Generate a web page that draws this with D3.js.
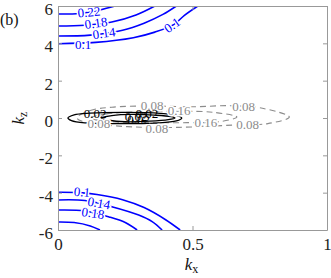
<!DOCTYPE html>
<html>
<head>
<meta charset="utf-8">
<script src="https://cdn.jsdelivr.net/npm/d3@7"></script>
<style>
  body { margin: 0; background: #fff; }
  svg { display: block; }
  text { font-family: "Liberation Serif", "Times New Roman", serif; }
</style>
</head>
<body>
<svg id="chart" width="331" height="278"></svg>
<script>
// axis ticks
const kxTicks = [0, 0.5, 1];
const kzTicks = [-6, -4, -2, 0, 2, 4, 6];

// blue contours near kz = +6 / -6, points [kx, kz]
const blueTop22 = [[0, 5.57], [0.08, 5.6], [0.156, 5.79], [0.212, 6]];
const blueTop18 = [[0, 4.93], [0.1, 4.97], [0.2, 5.14], [0.29, 5.52], [0.36, 6]];
const blueTop14 = [[0, 4.39], [0.12, 4.44], [0.24, 4.7], [0.32, 5.08], [0.39, 5.55], [0.44, 6]];
const blueTop10 = [[0, 3.98], [0.14, 4.05], [0.28, 4.3], [0.36, 4.6], [0.43, 5.0], [0.47, 5.5], [0.52, 6]];
const blueBot10 = [[0, -3.98], [0.08, -4.0], [0.145, -4.1], [0.24, -4.38], [0.32, -4.8], [0.4, -5.45], [0.454, -6]];
const blueBot14 = [[0, -4.39], [0.1, -4.42], [0.2, -4.75], [0.3, -5.2], [0.35, -5.55], [0.387, -6]];
const blueBot18 = [[0, -4.93], [0.1, -4.98], [0.19, -5.3], [0.25, -5.6], [0.294, -6]];
const blueBot22 = [[0, -5.57], [0.06, -5.6], [0.12, -5.78], [0.156, -6]];

// black closed contours (0.02)
const blackOuter = [[0.037, 0], [0.06, 0.17], [0.12, 0.26], [0.25, 0.3], [0.38, 0.25], [0.44, 0.14], [0.46, 0],
  [0.44, -0.16], [0.36, -0.27], [0.22, -0.3], [0.1, -0.26], [0.05, -0.14]];
const blackInner = [[0.16, 0], [0.2, 0.13], [0.28, 0.19], [0.36, 0.15], [0.42, 0.07], [0.435, 0],
  [0.41, -0.09], [0.34, -0.17], [0.25, -0.2], [0.19, -0.12]];

// grey dashed closed contours
const grey08 = [[0.07, 0.02], [0.12, 0.4], [0.2, 0.58], [0.35, 0.64], [0.5, 0.6], [0.64, 0.66], [0.76, 0.52], [0.86, 0.05],
  [0.78, -0.3], [0.65, -0.38], [0.45, -0.5], [0.28, -0.48], [0.15, -0.33], [0.09, -0.18]];
const grey16 = [[0.12, 0], [0.18, 0.22], [0.3, 0.33], [0.45, 0.36], [0.58, 0.3], [0.665, 0.05],
  [0.6, -0.2], [0.48, -0.25], [0.32, -0.25], [0.2, -0.2], [0.14, -0.1]];

// contour labels: [text, kx, kz, angle]
const blueLabels = [["0.22", 0.115, 5.68, -5], ["0.18", 0.141, 5.09, -8], ["0.14", 0.171, 4.55, -8],
  ["0.1", 0.093, 3.96, 0], ["0.1", 0.424, 4.98, -35],
  ["0.1", 0.089, -3.96, 5], ["0.14", 0.152, -4.55, 10], ["0.18", 0.13, -5.09, 8]];
const blackLabels = [["0.02", 0.138, 0.26, 0], ["0.02", 0.33, 0.27, 0], ["0.02", 0.29, 0.1, 0], ["0.02", 0.3, -0.07, 0]];
const greyLabels = [["0.08", 0.35, 0.65, 0], ["0.16", 0.45, 0.38, 0], ["0.08", 0.69, 0.6, 0], ["0.08", 0.152, -0.27, 0],
  ["0.08", 0.368, -0.55, 0], ["0.16", 0.55, -0.26, 0], ["0.08", 0.705, -0.35, 0]];

const svg = d3.select("#chart");
const m = { left: 58, right: 4, top: 6, bottom: 48 };
const W = 331 - m.left - m.right, H = 278 - m.top - m.bottom;

const x = d3.scaleLinear().domain([0, 1]).range([0, W]);
const y = d3.scaleLinear().domain([-6, 6]).range([H, 0]);

const g = svg.append("g").attr("transform", `translate(${m.left},${m.top})`);

g.append("clipPath").attr("id", "clip").append("rect").attr("width", W).attr("height", H);
const plot = g.append("g").attr("clip-path", "url(#clip)");

const openLine = d3.line().x(d => x(d[0])).y(d => y(d[1])).curve(d3.curveCatmullRom);
const closedLine = d3.line().x(d => x(d[0])).y(d => y(d[1])).curve(d3.curveCatmullRomClosed);

[blueTop22, blueTop18, blueTop14, blueTop10, blueBot10, blueBot14, blueBot18, blueBot22].forEach(c => {
  plot.append("path").attr("d", openLine(c)).attr("fill", "none")
    .attr("stroke", "#0000ff").attr("stroke-width", 1.6);
});
[grey08, grey16].forEach(c => {
  plot.append("path").attr("d", closedLine(c)).attr("fill", "none")
    .attr("stroke", "#8c8c8c").attr("stroke-width", 1.1).attr("stroke-dasharray", "6,4");
});
[blackOuter, blackInner].forEach(c => {
  plot.append("path").attr("d", closedLine(c)).attr("fill", "none")
    .attr("stroke", "#000").attr("stroke-width", 1.3);
});

function addLabels(list, color, halo) {
  list.forEach(l => {
    plot.append("text")
      .attr("transform", `translate(${x(l[1])},${y(l[2])}) rotate(${l[3]})`)
      .attr("text-anchor", "middle").attr("dy", "0.35em")
      .attr("font-size", 13).attr("fill", color)
      .attr("stroke", halo ? "#fff" : "none").attr("stroke-width", 3)
      .attr("paint-order", "stroke")
      .text(l[0]);
  });
}
addLabels(blueLabels, "#0000ff", true);
addLabels(greyLabels, "#8c8c8c", true);
addLabels(blackLabels, "#000", false);

// axes with inward ticks, box
const axisColor = "#999";
const ax = g.append("g").attr("transform", `translate(0,${H})`)
  .call(d3.axisBottom(x).tickValues(kxTicks).tickSizeInner(-4).tickSizeOuter(0).tickPadding(8).tickFormat(d3.format("")));
const axTop = g.append("g").call(d3.axisTop(x).tickValues(kxTicks).tickSizeInner(-4).tickSizeOuter(0).tickFormat(""));
const ay = g.append("g")
  .call(d3.axisLeft(y).tickValues(kzTicks).tickSizeInner(-4).tickSizeOuter(0).tickPadding(5).tickFormat(d => String(d)));
const ayR = g.append("g").attr("transform", `translate(${W},0)`)
  .call(d3.axisRight(y).tickValues(kzTicks).tickSizeInner(-4).tickSizeOuter(0).tickFormat(""));

[ax, axTop, ay, ayR].forEach(a => {
  a.select(".domain").attr("stroke", axisColor);
  a.selectAll(".tick line").attr("stroke", axisColor);
  a.selectAll(".tick text").attr("fill", "#222").attr("font-size", 17)
    .attr("font-family", "'Liberation Serif', 'Times New Roman', serif");
});
ay.selectAll(".tick text").attr("dy", "0.5em");

// axis titles
const xl = svg.append("text").attr("x", m.left + W / 2 - 1).attr("y", 270)
  .attr("text-anchor", "middle").attr("font-size", 17).attr("fill", "#111");
xl.append("tspan").attr("font-style", "italic").text("k");
xl.append("tspan").attr("font-size", 12).attr("dy", 3).text("x");

const yl = svg.append("text").attr("transform", `translate(24,${m.top + H / 2}) rotate(-90)`)
  .attr("text-anchor", "middle").attr("font-size", 17).attr("fill", "#111");
yl.append("tspan").attr("font-style", "italic").text("k");
yl.append("tspan").attr("font-size", 12).attr("dy", 3).text("z");

svg.append("text").attr("x", 0).attr("y", 25).attr("font-size", 16).attr("fill", "#111").text("(b)");
</script>
</body>
</html>
